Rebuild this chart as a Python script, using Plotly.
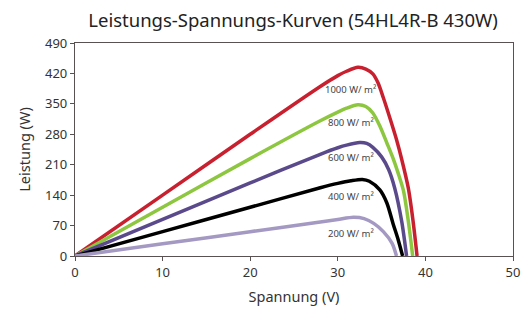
import plotly.graph_objects as go

# Irradiance series (label, colour)
labels = ["1000 W/ m²", "800 W/ m²", "600 W/ m²", "400 W/ m²", "200 W/ m²"]
colors = ["#c8202f", "#8dc63f", "#5b4a8b", "#000000", "#a499c3"]

v1000 = [0, 10, 20, 28, 30, 31, 32.3, 33.2, 34, 34.6, 35.2, 36, 36.7, 37.3, 38.05, 38.6, 39.05]
p1000 = [0, 140, 280, 390, 415, 425, 434, 430, 419, 398, 364, 314, 268, 222, 156, 79, 0]

v800 = [0, 10, 20, 28, 30, 31, 32.3, 33.2, 34, 34.8, 35.6, 36.3, 36.9, 37.5, 38.05, 38.55]
p800 = [0, 112, 224, 311, 331, 340, 348, 344, 329, 299, 260, 225, 190, 150, 80, 0]

v600 = [0, 10, 20, 28, 30, 31, 32.5, 33.3, 34, 35, 35.8, 36.5, 37.3, 37.85]
p600 = [0, 84, 168, 234, 249, 255, 261, 259, 250, 228, 199, 156, 79, 0]

v400 = [0, 10, 20, 28, 30, 31.5, 32.8, 33.6, 34.8, 35.6, 36.3, 36.9, 37.4]
p400 = [0, 56, 112, 157, 167, 173, 176, 172, 152, 122, 75, 37, 0]

v200 = [0, 10, 20, 28, 30, 31.8, 33, 34.1, 35.2, 36.2, 36.7]
p200 = [0, 28, 56, 78, 84, 89, 86, 75, 56, 29, 0]

volts = [v1000, v800, v600, v400, v200]
powers = [p1000, p800, p600, p400, p200]

# label anchor positions (V, W)
label_v = [31.4, 31.5, 31.5, 31.5, 31.5]
label_p = [382, 307, 226, 137, 52]

x_ticks = [0, 10, 20, 30, 40, 50]
y_ticks = [0, 70, 140, 210, 280, 350, 420, 490]

fig = go.Figure()
for v, p, c, name in zip(volts, powers, colors, labels):
    fig.add_trace(go.Scatter(x=v, y=p, mode="lines", name=name,
                             line=dict(color=c, width=3.5, shape="spline", smoothing=0.8)))

for name, lv, lp in zip(labels, label_v, label_p):
    fig.add_annotation(x=lv, y=lp, text=name, showarrow=False,
                       font=dict(size=9.5, color="#444444", family="Noto Sans"))

axis_common = dict(showgrid=False, zeroline=False, showline=True, linecolor="#5a5252",
                   linewidth=1.2, mirror=True, ticks="outside", ticklen=4,
                   tickcolor="#5a5252", tickfont=dict(size=13, color="#333333"),
                   automargin=False)

# the page body adds an 8px offset, so the figure is sized to fit the window
fig.update_layout(
    width=523, height=303,
    margin=dict(l=67, r=18, t=35, b=55),
    paper_bgcolor="white", plot_bgcolor="white",
    showlegend=False,
    font=dict(family="Noto Sans", color="#333333"),
    title=dict(text="Leistungs-Spannungs-Kurven (54HL4R-B 430W)", x=0.545, xanchor="center",
               y=0.96, yanchor="middle", font=dict(size=18.5, color="#222222")),
    xaxis=dict(range=[0, 50], tickvals=x_ticks,
               title=dict(text="Spannung (V)", font=dict(size=14.5), standoff=12), **axis_common),
    yaxis=dict(range=[0, 490], tickvals=y_ticks,
               title=dict(text="Leistung (W)", font=dict(size=14.5), standoff=10), **axis_common),
)

fig.write_html("out.html")
